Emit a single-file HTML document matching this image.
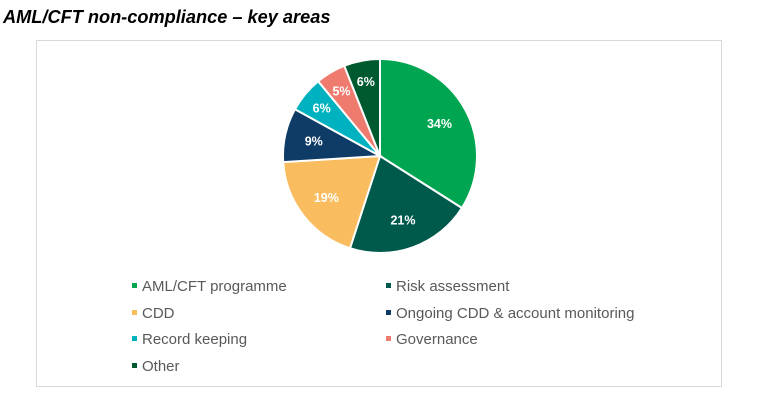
<!DOCTYPE html>
<html><head><meta charset="utf-8"><style>
body{margin:0;width:757px;height:420px;background:#fff;font-family:"Liberation Sans",Arial,sans-serif;position:relative;overflow:hidden}
.t{position:absolute;left:3px;top:7px;font-size:18.2px;font-weight:bold;font-style:italic;color:#000}
.box{position:absolute;left:36px;top:40px;width:684px;height:345px;border:1px solid #d9d9d9}
.lg{position:absolute;font-size:15px;color:#595959;white-space:nowrap}
.lg i{display:inline-block;width:5px;height:5px;margin-right:5px;vertical-align:3px}
</style></head><body>
<div class="t">AML/CFT non-compliance – key areas</div>
<div class="box"></div>
<svg id="s" width="757" height="420" style="position:absolute;left:0;top:0"></svg>
<div class="lg" style="left:132px;top:278px"><i style="background:#00a551"></i>AML/CFT programme</div>
<div class="lg" style="left:386px;top:278px"><i style="background:#005a4c"></i>Risk assessment</div>
<div class="lg" style="left:132px;top:305px"><i style="background:#f9bd5f"></i>CDD</div>
<div class="lg" style="left:386px;top:305px"><i style="background:#0f3c66"></i>Ongoing CDD &amp; account monitoring</div>
<div class="lg" style="left:132px;top:331px"><i style="background:#00b2bf"></i>Record keeping</div>
<div class="lg" style="left:386px;top:331px"><i style="background:#ee7b6d"></i>Governance</div>
<div class="lg" style="left:132px;top:358px"><i style="background:#005a30"></i>Other</div>
<script>
var d=[[34,'#00a551'],[21,'#005a4c'],[19,'#f9bd5f'],[9,'#0f3c66'],[6,'#00b2bf'],[5,'#ee7b6d'],[6,'#005a30']];
var cx=380,cy=156,r=97,c=0,h='';
function p(f,rr){var a=f*2*Math.PI;return [cx+rr*Math.sin(a),cy-rr*Math.cos(a)];}
d.forEach(function(s){var a=p(c/100,r),b=p((c+s[0])/100,r),l=s[0]>50?1:0;
h+='<path d="M'+cx+','+cy+'L'+a[0]+','+a[1]+'A'+r+','+r+' 0 '+l+' 1 '+b[0]+','+b[1]+'Z" fill="'+s[1]+'" stroke="#fff" stroke-width="2"/>';
var m=p((c+s[0]/2)/100,r*(s[0]<8?0.78:0.7));
h+='<text x="'+m[0]+'" y="'+(m[1]+4.5)+'" text-anchor="middle" font-size="12.5" font-weight="bold" fill="#fff" font-family="Liberation Sans,Arial,sans-serif">'+s[0]+'%</text>';
c+=s[0];});
document.getElementById('s').innerHTML=h;
</script>
</body></html>
